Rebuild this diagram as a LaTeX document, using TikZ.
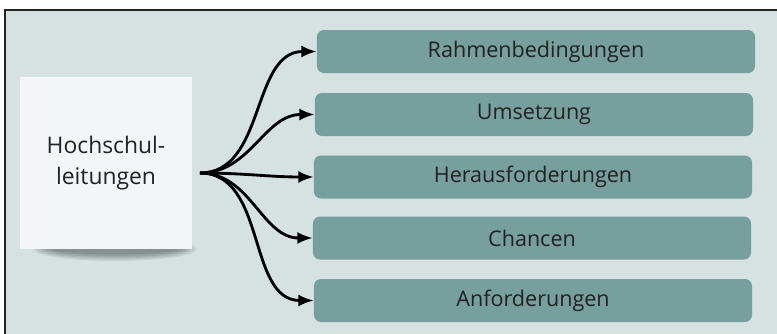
\documentclass[tikz,border=0pt]{standalone}
\usepackage{fontspec}
\setmainfont{Open Sans}
\usetikzlibrary{arrows.meta}

\definecolor{bgcol}{RGB}{214,226,226}
\definecolor{boxcol}{RGB}{118,159,157}
\definecolor{notecol}{RGB}{244,245,247}
\definecolor{inkcol}{RGB}{34,34,34}

\begin{document}
\begin{tikzpicture}[x=0.03cm, y=-0.03cm,
    topic/.style={rectangle, rounded corners=0.21cm, fill=boxcol, text=inkcol, minimum width=13.14cm, minimum height=1.29cm, font=\fontsize{18.4}{22}\selectfont},
    note/.style={rectangle, fill=notecol, text=inkcol, minimum width=5.16cm, minimum height=5.16cm, align=center, font=\fontsize{19.5}{26.5}\selectfont},
    link/.style={-{Latex[length=0.46cm, width=0.36cm]}, line width=0.085cm, black}]
    \useasboundingbox (0, 0) rectangle (777, 334);
    \fill[bgcol] (5, 10) rectangle (777, 334);
    \draw[inkcol, line width=0.06cm] (5, 334) -- (5, 10) -- (777, 10);

    % shadow under the note
    \foreach \r/\h in {2.45/0.36, 2.35/0.32, 2.25/0.28, 2.15/0.24, 2.05/0.2, 1.9/0.16}
        \fill[black, opacity=0.07] (115, 249) ellipse [x radius=\r cm, y radius=\h cm];

    \node[note] (hl) at (106, 163) {Hochschul-\\leitungen};
    \coordinate (hub) at (200, 173);

    \node[topic] (rb) at (536, 51.5) {Rahmenbedingungen};
    \node[topic] (um) at (534, 114.5) {Umsetzung};
    \node[topic] (ha) at (533, 177) {Herausforderungen};
    \node[topic] (ch) at (532, 238) {Chancen};
    \node[topic] (af) at (533, 300.5) {Anforderungen};

    \draw[link] (hub) to[out=0, in=180] (rb.west);
    \draw[link] (hub) to[out=0, in=180] (um.west);
    \draw[link] (hub) to[out=0, in=180] (ha.west);
    \draw[link] (hub) to[out=0, in=180] (ch.west);
    \draw[link] (hub) to[out=0, in=180] (af.west);
\end{tikzpicture}
\end{document}
